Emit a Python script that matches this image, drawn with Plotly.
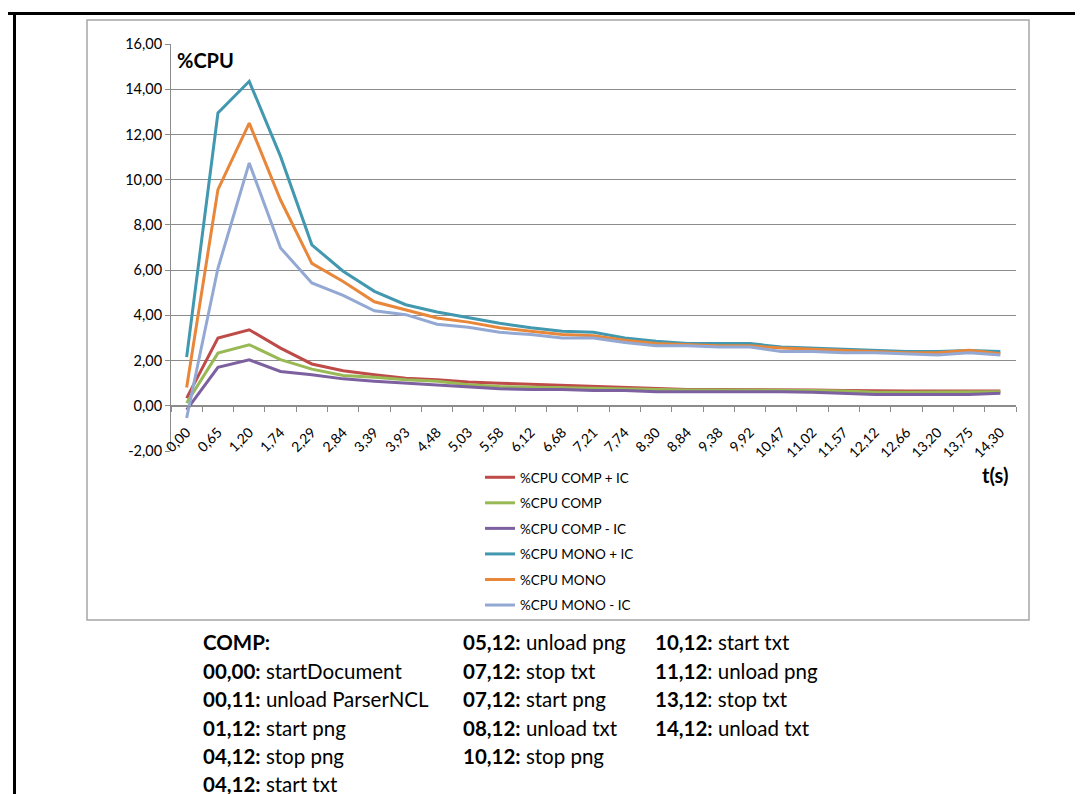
import plotly.graph_objects as go

# ---------------- data ----------------
t_labels = ["0,00", "0,65", "1,20", "1,74", "2,29", "2,84", "3,39", "3,93", "4,48",
            "5,03", "5,58", "6,12", "6,68", "7,21", "7,74", "8,30", "8,84", "9,38",
            "9,92", "10,47", "11,02", "11,57", "12,12", "12,66", "13,20", "13,75", "14,30"]

comp_plus_ic = [0.34, 3.00, 3.36, 2.55, 1.85, 1.55, 1.37, 1.22, 1.15, 1.05, 1.00, 0.95, 0.92,
                0.85, 0.80, 0.78, 0.72, 0.72, 0.72, 0.70, 0.70, 0.68, 0.65, 0.65, 0.65, 0.65, 0.65]
comp = [0.12, 2.33, 2.70, 2.04, 1.62, 1.34, 1.26, 1.15, 1.08, 0.93, 0.85, 0.82, 0.80,
        0.78, 0.75, 0.72, 0.70, 0.70, 0.70, 0.68, 0.68, 0.65, 0.60, 0.60, 0.60, 0.60, 0.62]
comp_minus_ic = [-0.18, 1.70, 2.03, 1.52, 1.37, 1.19, 1.08, 1.00, 0.93, 0.82, 0.75, 0.72, 0.72,
                 0.68, 0.68, 0.62, 0.62, 0.62, 0.65, 0.62, 0.60, 0.55, 0.50, 0.50, 0.50, 0.50, 0.55]
mono_plus_ic = [2.15, 12.95, 14.35, 11.03, 7.12, 5.95, 5.06, 4.47, 4.15, 3.91, 3.65, 3.45, 3.30,
                3.25, 3.00, 2.85, 2.75, 2.75, 2.75, 2.60, 2.55, 2.50, 2.45, 2.40, 2.40, 2.45, 2.40]
mono = [0.81, 9.56, 12.50, 9.10, 6.30, 5.50, 4.60, 4.25, 3.88, 3.70, 3.45, 3.30, 3.15,
        3.10, 2.90, 2.75, 2.70, 2.65, 2.65, 2.55, 2.50, 2.45, 2.40, 2.35, 2.35, 2.45, 2.30]
mono_minus_ic = [-0.54, 6.08, 10.74, 6.98, 5.43, 4.88, 4.20, 4.03, 3.61, 3.47, 3.25, 3.15, 3.00,
                 3.00, 2.80, 2.65, 2.65, 2.60, 2.60, 2.40, 2.40, 2.35, 2.35, 2.30, 2.25, 2.35, 2.25]

series_names = ["%CPU COMP + IC", "%CPU COMP", "%CPU COMP - IC",
                "%CPU MONO + IC", "%CPU MONO", "%CPU MONO - IC"]
series_values = [comp_plus_ic, comp, comp_minus_ic, mono_plus_ic, mono, mono_minus_ic]
series_colors = ["#BE4B48", "#98B954", "#7D60A0", "#4198AF", "#E8873A", "#93A9D3"]

y_tick_vals = [-2, 0, 2, 4, 6, 8, 10, 12, 14, 16]
y_tick_text = ["-2,00", "0,00", "2,00", "4,00", "6,00", "8,00", "10,00", "12,00", "14,00", "16,00"]

notes_col1 = [("COMP:", ""), ("00,00:", " startDocument"), ("00,11:", " unload ParserNCL"),
              ("01,12:", " start png"), ("04,12:", " stop png"), ("04,12:", " start txt")]
notes_col2 = [("05,12:", " unload png"), ("07,12:", " stop txt"), ("07,12:", " start png"),
              ("08,12:", " unload txt"), ("10,12:", " stop png")]
notes_col3 = [("10,12:", " start txt"), ("11,12", ": unload png"), ("13,12", ": stop txt"),
              ("14,12:", " unload txt")]

# ---------------- layout geometry (pixels) ----------------
W, H = 1083, 794
PL, PR, PT, PB = 163, 1008, 36, 443
FONT = "Lato, 'Open Sans', sans-serif"
GRID = "#8C8C8C"


def px_x(p):
    return (p - PL) / (PR - PL)


def px_y(p):
    return (PB - p) / (PB - PT)


fig = go.Figure()
for name, vals, col in zip(series_names, series_values, series_colors):
    fig.add_trace(go.Scatter(x=t_labels, y=vals, name=name, mode="lines",
                             line=dict(color=col, width=3), legendgroup=name))

fig.update_layout(
    width=W, height=H,
    margin=dict(l=PL, r=W - PR, t=PT, b=H - PB, pad=0, autoexpand=False),
    paper_bgcolor="white", plot_bgcolor="white",
    separators=",.",
    font=dict(family=FONT, size=14, color="#000000"),
    showlegend=True,
    legend=dict(xref="paper", yref="paper", x=px_x(472), y=px_y(454),
                xanchor="left", yanchor="top", font=dict(size=13.5, family=FONT),
                tracegroupgap=5, bgcolor="rgba(0,0,0,0)", itemwidth=30),
    xaxis=dict(type="category", anchor="free", position=2 / 18,
               showline=True, linecolor=GRID, linewidth=1,
               ticks="outside", ticklen=5, tickcolor=GRID, tickson="boundaries",
               tickmode="linear", tick0=0, dtick=1,
               tickangle=-45, showgrid=False, zeroline=False,
               tickfont=dict(size=14, family=FONT, color="#000000"),
               ticklabelstandoff=12, range=[-0.5, len(t_labels) - 0.5]),
    yaxis=dict(range=[-2, 16], tickvals=y_tick_vals, ticktext=y_tick_text,
               showline=True, linecolor=GRID, linewidth=1,
               ticks="outside", ticklen=5, tickcolor=GRID,
               showgrid=True, gridcolor=GRID, gridwidth=1, zeroline=False,
               tickfont=dict(size=14.5, family=FONT, color="#000000")),
)

shapes = [
    # gray chart frame
    dict(type="rect", xref="paper", yref="paper", x0=px_x(79), x1=px_x(1021),
         y0=px_y(612), y1=px_y(12), line=dict(color="#A6A6A6", width=1.5), layer="below"),
    # black page lines
    dict(type="line", xref="paper", yref="paper", x0=px_x(0), x1=px_x(W),
         y0=px_y(5.5), y1=px_y(5.5), line=dict(color="black", width=3)),
    dict(type="line", xref="paper", yref="paper", x0=px_x(6.5), x1=px_x(6.5),
         y0=px_y(H), y1=px_y(4), line=dict(color="black", width=3)),
]
fig.update_layout(shapes=shapes)

ann = [
    dict(text="<b>%CPU</b>", xref="paper", yref="paper", x=px_x(167), y=px_y(52),
         xanchor="left", yanchor="middle", showarrow=False, font=dict(size=20, family=FONT)),
    dict(text="<b>t(s)</b>", xref="paper", yref="paper", x=px_x(987), y=px_y(467),
         xanchor="center", yanchor="middle", showarrow=False, font=dict(size=20, family=FONT)),
]
row_y = [634, 662.5, 691, 719.5, 748, 776]
for colx, rows in ((193, notes_col1), (453, notes_col2), (645, notes_col3)):
    for i, (bold, rest) in enumerate(rows):
        ann.append(dict(text=f"<b>{bold}</b>{rest}", xref="paper", yref="paper",
                        x=px_x(colx), y=px_y(row_y[i]), xanchor="left", yanchor="middle",
                        showarrow=False, font=dict(size=20.5, family=FONT, color="#000000")))
fig.update_layout(annotations=ann)

fig.write_html("out.html")
